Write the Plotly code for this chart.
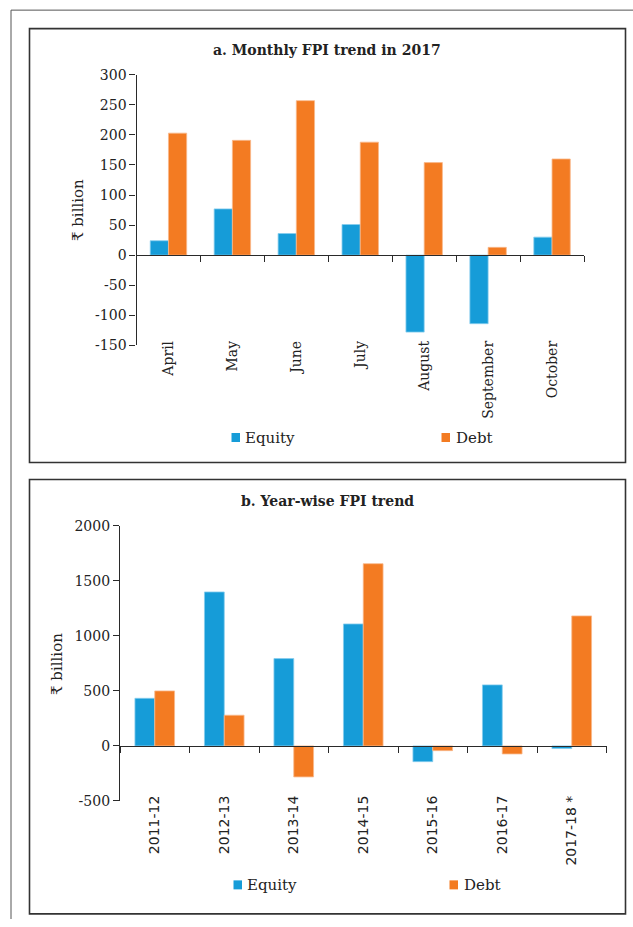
import plotly.graph_objects as go

W, H = 633, 927
# the photographed page shows a band 8px taller than the figure above and below,
# squeezed to the window height; positions below are in reference-picture pixels
VS = H / (H + 16)
VOFF = 8

# ---- data ----
months = ["April", "May", "June", "July", "August", "September", "October"]
equity_monthly = [24, 77, 36, 51, -128, -114, 30]
debt_monthly = [203, 191, 257, 188, 154, 13, 160]

years = ["2011-12", "2012-13", "2013-14", "2014-15", "2015-16", "2016-17", "2017-18 *"]
equity_yearly = [433, 1400, 794, 1109, -143, 555, -24]
debt_yearly = [500, 279, -282, 1657, -43, -73, 1182]

title_a = "a. Monthly FPI trend in 2017"
title_b = "b. Year-wise FPI trend"
y_title = "₹ billion"
series_names = ["Equity", "Debt"]

range_a = [-150, 300]
step_a = 50
range_b = [-500, 2000]
step_b = 500

BLUE = "#169CD8"
ORANGE = "#F37B22"
BLUE_EDGE = "#86CDEE"
ORANGE_EDGE = "#F9B98C"
AX = "#2a2a2a"
SERIF = "DejaVu Serif"
SANS = "DejaVu Sans"


def fx(px):
    return px / W


def fy(py):
    return 1 - (py / VS - VOFF) / H


# plot areas in picture pixels
A_X = (136.5, 584.0)
A_Y = (74.7, 345.3)   # top, bottom
B_X = (120.0, 606.5)
B_Y = (526.0, 801.0)

dom_ax = [fx(A_X[0]), fx(A_X[1])]
dom_ay = [fy(A_Y[1]), fy(A_Y[0])]
dom_bx = [fx(B_X[0]), fx(B_X[1])]
dom_by = [fy(B_Y[1]), fy(B_Y[0])]


def zero_pos(dom, rng):
    return dom[0] + (0 - rng[0]) / (rng[1] - rng[0]) * (dom[1] - dom[0])


def ticks(rng, step):
    vals = list(range(rng[0], rng[1] + 1, step))
    return vals, [str(v) for v in vals]


za = zero_pos(dom_ay, range_a)
zb = zero_pos(dom_by, range_b)
standoff_a = int(round((za - dom_ay[0]) * H)) - 13
standoff_b = int(round((zb - dom_by[0]) * H)) - 13

fig = go.Figure()
fig.add_trace(go.Bar(x=months, y=equity_monthly, name=series_names[0], marker=dict(color=BLUE, line=dict(color=BLUE_EDGE, width=0.8)), xaxis="x", yaxis="y"))
fig.add_trace(go.Bar(x=months, y=debt_monthly, name=series_names[1], marker=dict(color=ORANGE, line=dict(color=ORANGE_EDGE, width=0.8)), xaxis="x", yaxis="y"))
fig.add_trace(go.Bar(x=years, y=equity_yearly, name=series_names[0], marker=dict(color=BLUE, line=dict(color=BLUE_EDGE, width=0.8)), xaxis="x2", yaxis="y2"))
fig.add_trace(go.Bar(x=years, y=debt_yearly, name=series_names[1], marker=dict(color=ORANGE, line=dict(color=ORANGE_EDGE, width=0.8)), xaxis="x2", yaxis="y2"))

common_x = dict(type="category", showgrid=False, zeroline=False, showline=True, linecolor=AX, linewidth=1.3,
                ticks="outside", ticklen=6, tickcolor=AX, tickwidth=1.3, tickson="boundaries",
                tickangle=-90, anchor="free", fixedrange=True)
common_y = dict(showgrid=False, zeroline=False, showline=True, linecolor=AX, linewidth=1.3,
                ticks="outside", ticklen=6, tickcolor=AX, tickwidth=1.3,
                tickfont=dict(family=SERIF, size=14, color="#222"), fixedrange=True)

tv_a, tt_a = ticks(range_a, step_a)
tv_b, tt_b = ticks(range_b, step_b)

fig.update_layout(
    width=W, height=H,
    margin=dict(l=0, r=0, t=0, b=0),
    paper_bgcolor="white", plot_bgcolor="rgba(0,0,0,0)",
    showlegend=False,
    barmode="group", bargap=0.43, bargroupgap=0,
    xaxis=dict(common_x, domain=dom_ax, position=za, ticklabelstandoff=standoff_a,
               tickfont=dict(family=SERIF, size=14, color="#222")),
    yaxis=dict(common_y, domain=dom_ay, anchor="x", range=range_a, tickvals=tv_a, ticktext=tt_a),
    xaxis2=dict(common_x, domain=dom_bx, position=zb, ticklabelstandoff=standoff_b,
                tickfont=dict(family=SANS, size=14, color="#222")),
    yaxis2=dict(common_y, domain=dom_by, anchor="x2", range=range_b, tickvals=tv_b, ticktext=tt_b),
)

shapes = []
# outer frame (left and top lines)
shapes.append(dict(type="line", xref="paper", yref="paper", x0=fx(11), x1=fx(W), y0=fy(10), y1=fy(10), line=dict(color="#555", width=1)))
shapes.append(dict(type="line", xref="paper", yref="paper", x0=fx(11), x1=fx(11), y0=fy(10), y1=0, line=dict(color="#555", width=1)))
# panel boxes
for top, bot in [(28.5, 462.5), (479.5, 914.0)]:
    shapes.append(dict(type="rect", xref="paper", yref="paper", x0=fx(29.5), x1=fx(625.5), y0=fy(bot), y1=fy(top),
                       line=dict(color="#333", width=1.6)))
# legend squares
for (xs, yc) in [((231.5, 441.5), 437.5), ((233.5, 449.5), 885.0)]:
    for xpos, col in zip(xs, [BLUE, ORANGE]):
        shapes.append(dict(type="rect", xref="paper", yref="paper", x0=fx(xpos), x1=fx(xpos + 8.5),
                           y0=fy(yc + 4.5), y1=fy(yc - 4.5), fillcolor=col, line=dict(width=0)))
fig.update_layout(shapes=shapes)

ann = []
ann.append(dict(text="<b>" + title_a + "</b>", x=fx(327), y=fy(50), xref="paper", yref="paper", showarrow=False,
                xanchor="center", yanchor="middle", font=dict(family=SERIF, size=14, color="#222")))
ann.append(dict(text="<b>" + title_b + "</b>", x=fx(327), y=fy(501), xref="paper", yref="paper", showarrow=False,
                xanchor="center", yanchor="middle", font=dict(family=SERIF, size=14, color="#222")))
ann.append(dict(text=y_title, x=fx(78), y=fy(210), xref="paper", yref="paper", showarrow=False, textangle=-90,
                xanchor="center", yanchor="middle", font=dict(family=SERIF, size=15, color="#222")))
ann.append(dict(text=y_title, x=fx(57), y=fy(664), xref="paper", yref="paper", showarrow=False, textangle=-90,
                xanchor="center", yanchor="middle", font=dict(family=SERIF, size=15, color="#222")))
for (xs, yc) in [((243, 453.5), 437.5), ((245, 461.5), 885.0)]:
    for xpos, name in zip(xs, series_names):
        ann.append(dict(text=name, x=fx(xpos), y=fy(yc), xref="paper", yref="paper", showarrow=False,
                        xanchor="left", yanchor="middle", font=dict(family=SERIF, size=15, color="#222")))
fig.update_layout(annotations=ann)

fig.write_html("out.html", config={"displayModeBar": False},
               post_script="document.body.style.margin='0';document.body.style.overflow='hidden';")
